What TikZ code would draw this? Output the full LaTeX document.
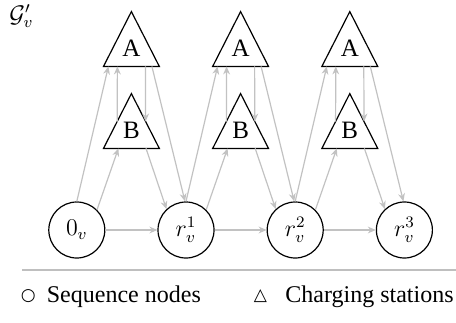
\documentclass[tikz,border=0pt]{standalone}
\usepackage{fontspec}
\setmainfont{Liberation Serif}
\newfontfamily\symfont{DejaVu Sans}
\usetikzlibrary{arrows.meta,calc}
\begin{document}
\begin{tikzpicture}[x=0.5pt,y=-0.5pt,
  seq/.style={circle,draw,line width=0.6pt,minimum size=28pt,inner sep=0pt,font=\fontsize{12}{14}\selectfont},
  cs/.style={minimum width=27.5pt,minimum height=27pt,inner sep=0pt,text height=17pt,text depth=0pt,font=\fontsize{12.5}{14}\selectfont},
  tri/.style={draw,line width=0.6pt,line join=miter},
  edge/.style={draw=black!24,line width=0.6pt,-{Stealth[length=4pt,width=3.4pt]}},
  legend/.style={font=\fontsize{12}{14}\selectfont,inner sep=0pt},
  legsym/.style={font=\symfont\fontsize{8.5}{9}\selectfont,inner sep=0pt}]
\useasboundingbox (0,0) rectangle (456,322);
% title
\node[font=\fontsize{12}{14}\selectfont,inner sep=0pt,anchor=north west] (G) at (9,4) {$\mathcal{G}'_v$};
% sequence nodes
\node[seq] (c0) at (76.8,230) {$0_v$};
\node[seq] (c1) at (186,230) {$r_v^1$};
\node[seq] (c2) at (295.2,230) {$r_v^2$};
\node[seq] (c3) at (404.4,230) {$r_v^3$};
% charging stations
\node[cs] (A1) at (131.4,39) {A};
\node[cs] (B1) at (131.4,121) {B};
\node[cs] (A2) at (240.6,39) {A};
\node[cs] (B2) at (240.6,121) {B};
\node[cs] (A3) at (349.8,39) {A};
\node[cs] (B3) at (349.8,121) {B};
\foreach \n in {A1,B1,A2,B2,A3,B3}
  \draw[tri] (\n.south west) -- (\n.north) -- (\n.south east) -- cycle;
% edges, segment by segment
\foreach \c/\a/\b/\d in {c0/A1/B1/c1, c1/A2/B2/c2, c2/A3/B3/c3}{
  \draw[edge] (\c.90) -- ($(\a.south)+(-23,0)$);
  \draw[edge] (\c.45) -- ($(\b.south)+(-13,0)$);
  \draw[edge] ($(\b.north)!0.51!(\b.south west)$) -- ($(\a.south)+(-14,0)$);
  \draw[edge] ($(\a.south)+(14,0)$) -- ($(\b.north)!0.51!(\b.south east)$);
  \draw[edge] ($(\a.south)+(20.5,0)$) -- (\d.92);
  \draw[edge] ($(\b.south)+(14.6,0)$) -- (\d.133);
  \draw[edge] (\c) -- (\d);
}
% separator
\coordinate (sepL) at (22,270);
\coordinate (sepR) at (456,270);
\draw[draw=black!25,line width=1pt] (sepL) -- (sepR);
% legend
\node[legsym] (s1) at (28.3,296) {○};
\node[legend,anchor=base west] (t1) at (46.5,302.7) {Sequence nodes};
\node[legsym] (s2) at (260.5,296) {△};
\node[legend,anchor=base west] (t2) at (285,302.7) {Charging stations};
\end{tikzpicture}
\end{document}
